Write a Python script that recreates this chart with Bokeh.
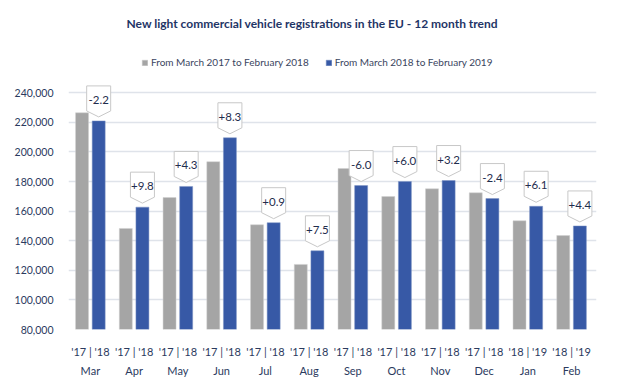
from bokeh.plotting import figure
from bokeh.models import (FixedTicker, NumeralTickFormatter, Legend, LegendItem,
                          ColumnDataSource, Range1d, Label)
from bokeh.core.properties import value
from bokeh.embed import file_html
from bokeh.resources import INLINE

months = ["Mar", "Apr", "May", "Jun", "Jul", "Aug", "Sep", "Oct", "Nov", "Dec", "Jan", "Feb"]
year_pairs = ["'17 | '18"] * 10 + ["'18 | '19"] * 2
prev_year = [226500, 148300, 169200, 193400, 150800, 124000, 188800, 169900, 175100, 172400, 153500, 143500]
curr_year = [221000, 162700, 176700, 209600, 152200, 133200, 177300, 180000, 180700, 168500, 163300, 150000]
changes = ["-2.2", "+9.8", "+4.3", "+8.3", "+0.9", "+7.5", "-6.0", "+6.0", "+3.2", "-2.4", "+6.1", "+4.4"]
y_ticks = [80000, 100000, 120000, 140000, 160000, 180000, 200000, 220000, 240000]
series_names = ["From March 2017 to February 2018", "From March 2018 to February 2019"]
title_text = "New light commercial vehicle registrations in the EU - 12 month trend"

FONT = "Lato"
GRAY = "#a5a5a5"
BLUE = "#3759a6"
TXT = "#2b3a5e"

FRAME_W, FRAME_H = 528, 322
X0, X1 = 0, 12.07
Y0 = 80000
PX_PER_UNIT_Y = 236.7 / 160000          # pixel spacing of the y scale
Y1 = 240000 + 85.3 / PX_PER_UNIT_Y      # room above the 240,000 line for title and legend

p = figure(frame_width=FRAME_W, frame_height=FRAME_H, title=None,
           x_range=Range1d(X0, X1), y_range=Range1d(Y0, Y1),
           output_backend="svg", toolbar_location=None,
           min_border_left=68, min_border_right=25, min_border_bottom=52, min_border_top=7)
p.outline_line_color = None
p.background_fill_color = "white"

n = len(months)
xc = [i + 0.5 for i in range(n)]
off = 0.19
bw = 0.297
src = ColumnDataSource(dict(
    xg=[x - off for x in xc], xb=[x + off for x in xc],
    prev=prev_year, curr=curr_year,
))
r_prev = p.vbar(x="xg", top="prev", bottom=Y0, width=bw, source=src,
                fill_color=GRAY, line_color="#d0d0d0", line_width=0.5)
r_curr = p.vbar(x="xb", top="curr", bottom=Y0, width=bw, source=src,
                fill_color=BLUE, line_color="#7f95c4", line_width=0.5)

# callout boxes above the current-year bars
xpx = (X1 - X0) / FRAME_W
ypx = (Y1 - Y0) / FRAME_H
hw, rect_h, arr_h, gap = 12, 25, 6, 4
xs, ys, tx, ty = [], [], [], []
for i in range(n):
    cx = xc[i] + off
    tip = curr_year[i] + gap * ypx
    sb = tip + arr_h * ypx
    top = sb + rect_h * ypx
    xs.append([cx - hw * xpx, cx + hw * xpx, cx + hw * xpx, cx, cx - hw * xpx])
    ys.append([top, top, sb, tip, sb])
    tx.append(cx)
    ty.append(top - 14 * ypx)
p.patches(xs=xs, ys=ys, fill_color="white", line_color="#c8c8c8", line_width=1)
p.text(x=tx, y=ty, text=changes, text_align="center", text_baseline="middle",
       text_font=value(FONT), text_font_size="11.5px", text_color="#1f2d4d")

# axes
p.yaxis.ticker = FixedTicker(ticks=y_ticks)
p.yaxis.formatter = NumeralTickFormatter(format="0,0")
p.yaxis.axis_line_color = None
p.yaxis.major_tick_line_color = None
p.yaxis.minor_tick_line_color = None
p.yaxis.major_label_standoff = 9
p.yaxis.major_label_text_font = FONT
p.yaxis.major_label_text_font_size = "10.5px"
p.yaxis.major_label_text_color = TXT

p.xaxis.ticker = FixedTicker(ticks=xc)
p.xaxis.major_label_overrides = {x: f"{y}\n{m}" for x, y, m in zip(xc, year_pairs, months)}
p.xaxis.axis_line_color = None
p.xaxis.major_tick_line_color = None
p.xaxis.minor_tick_line_color = None
p.xaxis.major_label_standoff = 9
p.xaxis.major_label_text_font = FONT
p.xaxis.major_label_text_font_size = "11px"
p.xaxis.major_label_text_color = TXT
p.xaxis.major_label_text_line_height = 1.5

p.xgrid.grid_line_color = None
p.ygrid.grid_line_color = "#dfe3ea"
p.ygrid.grid_line_width = 1.5

# title (inside the tall frame, above the data area)
p.add_layout(Label(x=58, y=FRAME_H - 16, x_units="screen", y_units="screen",
                   text=title_text, text_font=FONT, text_font_size="12px",
                   text_font_style="bold", text_color="#1f3566",
                   text_baseline="middle", text_align="left"))

legend = Legend(items=[LegendItem(label=series_names[0], renderers=[r_prev]),
                       LegendItem(label=series_names[1], renderers=[r_curr])],
                orientation="horizontal", location=(73, FRAME_H - 61),
                glyph_width=7, glyph_height=7, label_standoff=3, spacing=16,
                padding=0, margin=0, border_line_color=None, background_fill_alpha=0,
                label_text_font=FONT, label_text_font_size="10px", label_text_color="#3a4560")
p.add_layout(legend)

open("out.html", "w").write(file_html(p, INLINE))
